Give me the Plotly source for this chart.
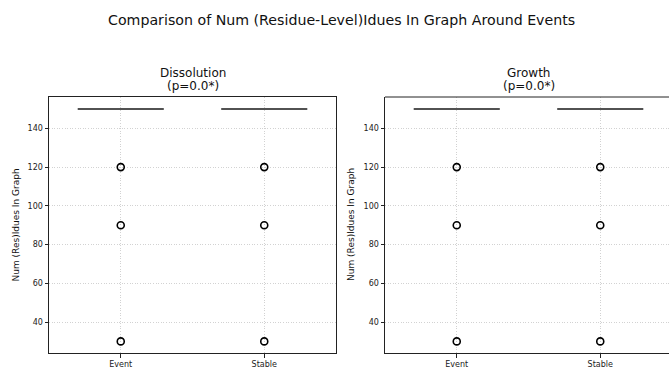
import plotly.graph_objects as go

W, H = 669, 369

categories = ["Event", "Stable"]
positions = [1, 2]
panel_names = ["Dissolution", "Growth"]
panel_pvals = ["(p=0.0*)", "(p=0.0*)"]
y_label = "Num (Res)Idues In Graph"
main_title = "Comparison of Num (Residue-Level)Idues In Graph Around Events"
y_ticks = [40, 60, 80, 100, 120, 140]

dissolution_event = [150, 150, 150, 150, 150, 150, 150, 150, 150, 150, 150, 150, 120, 90, 30]
dissolution_stable = [150, 150, 150, 150, 150, 150, 150, 150, 150, 150, 150, 150, 120, 90, 30]
growth_event = [150, 150, 150, 150, 150, 150, 150, 150, 150, 150, 150, 150, 120, 90, 30]
growth_stable = [150, 150, 150, 150, 150, 150, 150, 150, 150, 150, 150, 150, 120, 90, 30]

panels = [
    [dissolution_event, dissolution_stable],
    [growth_event, growth_stable],
]

def px_x(p):
    return p / W

def px_y(p):
    return 1 - p / H

# axis pixel geometry
x_doms = [(49, 336), (385, 669)]
x_ranges = [[0.5, 2.5], [0.5, 0.5 + 2.0 * (669 - 385) / 287.0]]
y_top, y_bot = 97, 353
y_range = [24.0, 156.2]

fig = go.Figure()

for i, groups in enumerate(panels):
    xa = "x" if i == 0 else "x2"
    ya = "y" if i == 0 else "y2"
    for pos, vals in zip(positions, groups):
        fig.add_trace(go.Box(
            y=vals,
            x=[pos] * len(vals),
            xaxis=xa, yaxis=ya,
            width=0.6,
            boxpoints="outliers",
            jitter=0, pointpos=0,
            fillcolor="rgba(0,0,0,0)",
            line=dict(color="#1a1a1a", width=1.5),
            whiskerwidth=0,
            marker=dict(symbol="circle-open", size=7, color="black",
                        line=dict(color="black", width=1.6)),
            showlegend=False,
            hoverinfo="y",
        ))

common_x = dict(
    tickvals=positions, ticktext=categories,
    showgrid=True, gridcolor="#d2d2d2", griddash="1px,1.6px", gridwidth=0.8,
    ticks="outside", ticklen=3.5, tickcolor="#222", tickwidth=1,
    tickfont=dict(family="DejaVu Sans", size=8, color="#222"),
    showline=True, linecolor="#222", linewidth=1,
    zeroline=False, fixedrange=True,
)
common_y = dict(
    range=y_range, tickvals=y_ticks,
    showgrid=True, gridcolor="#d2d2d2", griddash="1px,1.6px", gridwidth=0.8,
    ticks="outside", ticklen=3.5, tickcolor="#222", tickwidth=1,
    tickfont=dict(family="DejaVu Sans", size=8, color="#222"),
    showline=True, linecolor="#222", linewidth=1,
    zeroline=False,
    domain=[px_y(y_bot), px_y(y_top)],
)

fig.update_layout(
    width=W, height=H,
    margin=dict(l=0, r=0, t=0, b=0),
    paper_bgcolor="white", plot_bgcolor="white",
    font=dict(family="DejaVu Sans", color="#111"),
    xaxis=dict(common_x, domain=[px_x(x_doms[0][0]), px_x(x_doms[0][1])],
               range=x_ranges[0], mirror=True, anchor="y"),
    yaxis=dict(common_y, mirror=True, anchor="x"),
    xaxis2=dict(common_x, domain=[px_x(x_doms[1][0]), px_x(x_doms[1][1])],
                range=x_ranges[1], mirror=False, anchor="y2"),
    yaxis2=dict(common_y, mirror=False, anchor="x2"),
    boxgap=0, boxgroupgap=0,
)

# top spine for the cut-off right panel
fig.add_shape(type="line", xref="paper", yref="paper",
              x0=px_x(x_doms[1][0]), x1=1.0, y0=px_y(y_top), y1=px_y(y_top),
              line=dict(color="#222", width=1))

# titles
fig.add_annotation(text=main_title, xref="paper", yref="paper",
                   x=px_x(341.5), y=px_y(20), xanchor="center", yanchor="middle",
                   showarrow=False, font=dict(family="DejaVu Sans", size=14.2, color="#111"))
centers = [(49 + 336) / 2, (385 + 672) / 2]
for c, name, pv in zip(centers, panel_names, panel_pvals):
    fig.add_annotation(text=name, xref="paper", yref="paper",
                       x=px_x(c), y=px_y(73), xanchor="center", yanchor="middle",
                       showarrow=False,
                       font=dict(family="DejaVu Sans", size=12, color="#111"))
    fig.add_annotation(text=pv, xref="paper", yref="paper",
                       x=px_x(c), y=px_y(86), xanchor="center", yanchor="middle",
                       showarrow=False,
                       font=dict(family="DejaVu Sans", size=12, color="#111"))
for xc in [15.5, 351]:
    fig.add_annotation(text=y_label, xref="paper", yref="paper",
                       x=px_x(xc), y=px_y((y_top + y_bot) / 2),
                       xanchor="center", yanchor="middle", textangle=-90,
                       showarrow=False, font=dict(family="DejaVu Sans", size=9, color="#111"))

fig.write_html("out.html")
